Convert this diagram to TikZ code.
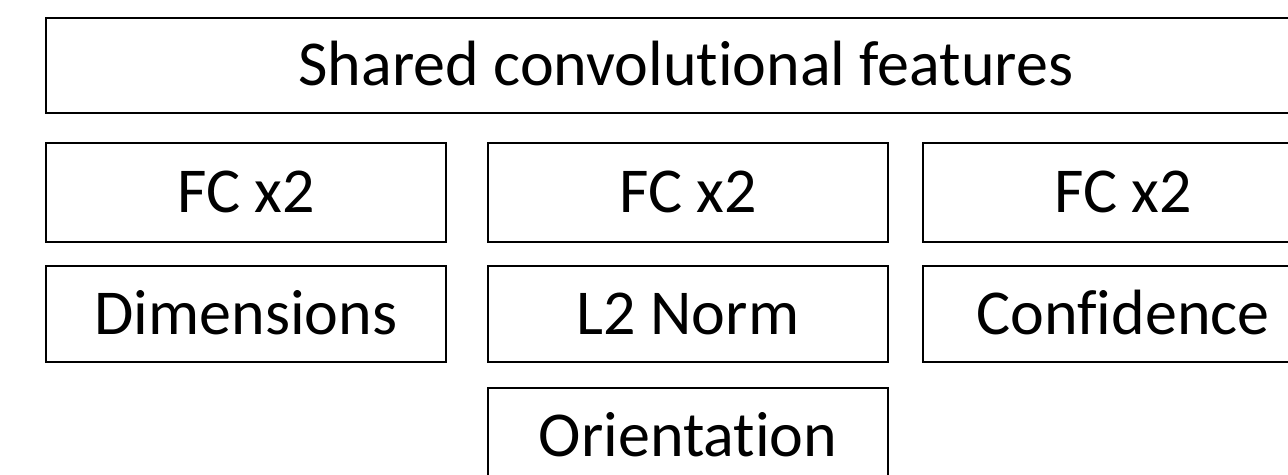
\documentclass[tikz,border=0pt]{standalone}
\usepackage{fontspec}
\setmainfont{Carlito}[Ligatures=NoCommon]
\begin{document}
\begin{tikzpicture}[x=1pt,y=-1pt,
  block/.style={draw=black, line width=2.6pt, rectangle, inner sep=0pt,
    font=\fontsize{64}{76}\selectfont, text height=40pt, text depth=0pt,
    minimum width=400pt, minimum height=97pt},
  wideblock/.style={block, minimum width=1280pt, minimum height=95pt}]
  \useasboundingbox (0,0) rectangle (1288,474);
  \clip (0,0) rectangle (1288,474);
  % shared trunk
  \node[wideblock] (shared) at (686,65.5) {Shared convolutional features};
  % fully connected branches
  \node[block, minimum height=99pt] (fcdim)  at (246,192.5)  {FC x2};
  \node[block, minimum height=99pt] (fcori)  at (688,192.5)  {FC x2};
  \node[block, minimum height=99pt] (fcconf) at (1123,192.5) {FC x2};
  % branch outputs
  \node[block, minimum height=96pt] (dim)  at (246,314)  {Dimensions};
  \node[block, minimum height=96pt] (norm) at (688,314)  {L2 Norm};
  \node[block, minimum height=96pt] (conf) at (1123,314) {Confidence};
  \node[block, minimum height=96pt] (ori)  at (688,436)  {Orientation};
\end{tikzpicture}
\end{document}
